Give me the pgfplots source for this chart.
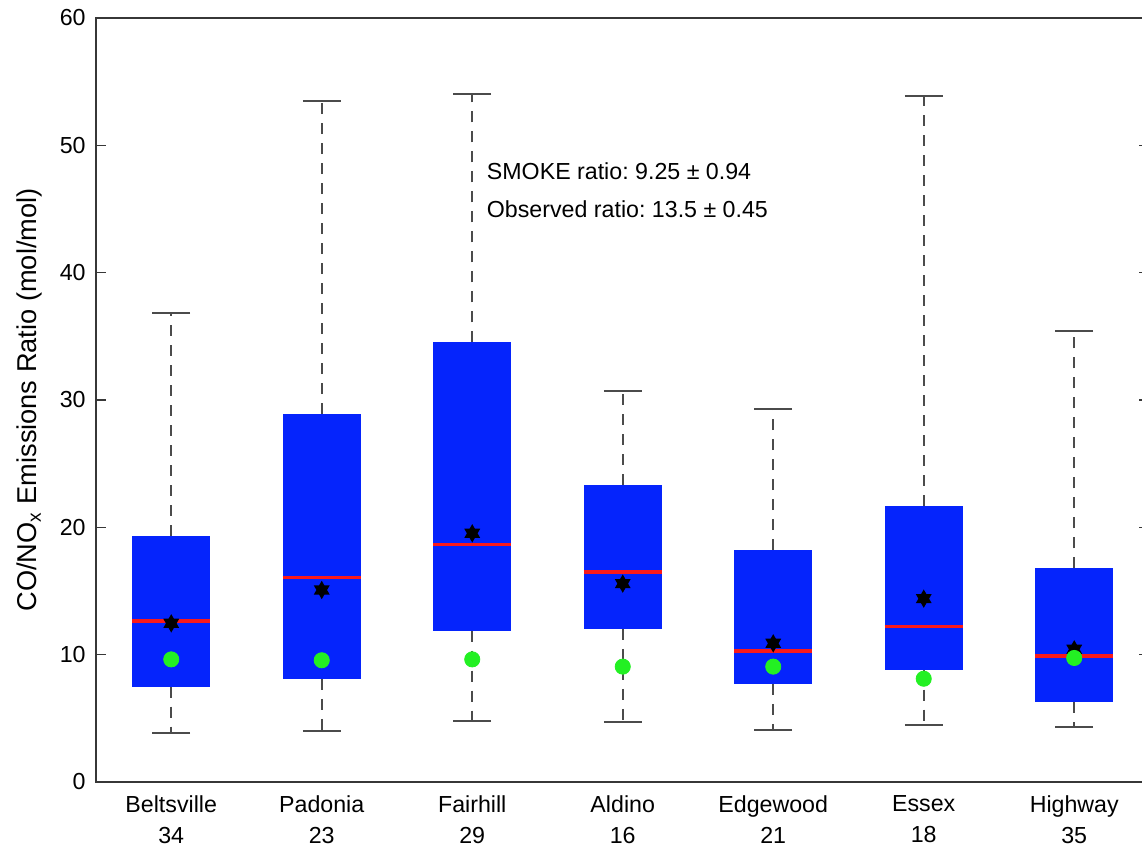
\documentclass[border=0pt]{standalone}
\usepackage{pgfplots}
\pgfplotsset{compat=1.18}
\usepgfplotslibrary{statistics}
\usepackage{pgfplotstable}
\usepackage{fontspec}
\setmainfont{Liberation Sans}
\frenchspacing
\definecolor{boxblue}{RGB}{5,36,252}
\definecolor{medred}{RGB}{250,25,25}
\definecolor{dotgreen}{RGB}{35,240,35}
\definecolor{axgray}{RGB}{55,55,55}
\definecolor{whgray}{RGB}{75,75,75}
\newcommand\fs{\fontsize{11.6}{15.5}\selectfont}

\pgfdeclareplotmark{hexstar}{%
  \pgfpathmoveto{\pgfpoint{0pt}{\pgfplotmarksize}}%
  \pgfpathlineto{\pgfpoint{0.866\pgfplotmarksize}{-0.5\pgfplotmarksize}}%
  \pgfpathlineto{\pgfpoint{-0.866\pgfplotmarksize}{-0.5\pgfplotmarksize}}%
  \pgfpathclose
  \pgfpathmoveto{\pgfpoint{0pt}{-\pgfplotmarksize}}%
  \pgfpathlineto{\pgfpoint{-0.866\pgfplotmarksize}{0.5\pgfplotmarksize}}%
  \pgfpathlineto{\pgfpoint{0.866\pgfplotmarksize}{0.5\pgfplotmarksize}}%
  \pgfpathclose
  \pgfusepathqfill
}

\pgfplotstableread{
x lw q1 med q3 uw avg obs
1 3.82 7.49 12.64 19.32 36.81 12.46 9.63
2 4.03 8.09 16.05 28.90 53.48 15.08 9.56
3 4.82 11.89 18.67 34.53 54.00 19.53 9.63
4 4.74 12.02 16.49 23.35 30.73 15.58 9.06
5 4.11 7.70 10.29 18.22 29.27 10.89 9.06
6 4.48 8.82 12.21 21.68 53.88 14.40 8.11
7 4.32 6.26 9.90 16.78 35.42 10.42 9.74
}\boxdata

\begin{document}
\begin{tikzpicture}
\begin{axis}[
  scale only axis, width=526.75pt, height=382pt,
  at={(0,0)}, anchor=south west,
  xmin=0.5, xmax=7.5, ymin=0, ymax=60,
  clip=false,
  axis line style={axgray, line width=1pt},
  xtick={1,2,3,4,5,6,7},
  xticklabels={{Beltsville\\34},{Padonia\\23},{Fairhill\\29},{Aldino\\16},{Edgewood\\21},{Essex\\18},{Highway\\35}},
  xticklabel style={align=center, font=\fs, inner sep=0pt, yshift=-6.5pt},
  x tick style={draw=none},
  ytick={0,10,20,30,40,50,60},
  ytick pos=both,
  yticklabel pos=left,
  y tick style={axgray, line width=0.8pt},
  tick align=inside,
  major tick length=5pt,
  yticklabel style={font=\fs, inner sep=0pt, xshift=-5pt},
  /pgf/number format/assume math mode=true,
  ylabel={CO/NO\textsubscript{x} Emissions Ratio (mol/mol)},
  ylabel style={at={(axis description cs:-0.063,0.5)}, anchor=center, font=\fontsize{13.6}{16}\selectfont},
  boxplot/draw direction=y,
  boxplot/box extend=0.52,
  boxplot/whisker extend=0.25,
  boxplot/every box/.style={fill=boxblue, draw=none},
  boxplot/every median/.style={draw=medred, line width=1.6pt},
  boxplot/every whisker/.style={draw=whgray, line width=1pt, dash pattern=on 5.5pt off 4.5pt},
]
\addplot[boxplot prepared={draw position=1, lower whisker=3.82, lower quartile=7.49, median=12.64, upper quartile=19.32, upper whisker=36.81}] coordinates {};
\addplot[boxplot prepared={draw position=2, lower whisker=4.03, lower quartile=8.09, median=16.05, upper quartile=28.90, upper whisker=53.48}] coordinates {};
\addplot[boxplot prepared={draw position=3, lower whisker=4.82, lower quartile=11.89, median=18.67, upper quartile=34.53, upper whisker=54.00}] coordinates {};
\addplot[boxplot prepared={draw position=4, lower whisker=4.74, lower quartile=12.02, median=16.49, upper quartile=23.35, upper whisker=30.73}] coordinates {};
\addplot[boxplot prepared={draw position=5, lower whisker=4.11, lower quartile=7.70, median=10.29, upper quartile=18.22, upper whisker=29.27}] coordinates {};
\addplot[boxplot prepared={draw position=6, lower whisker=4.48, lower quartile=8.82, median=12.21, upper quartile=21.68, upper whisker=53.88}] coordinates {};
\addplot[boxplot prepared={draw position=7, lower whisker=4.32, lower quartile=6.26, median=9.90, upper quartile=16.78, upper whisker=35.42}] coordinates {};
\addplot[whgray, only marks, mark=-, mark size=9.4pt, mark options={draw=whgray, line width=1pt, solid}] table[x=x, y=lw] {\boxdata};
\addplot[whgray, only marks, mark=-, mark size=9.4pt, mark options={draw=whgray, line width=1pt, solid}] table[x=x, y=uw] {\boxdata};
\addplot[black, only marks, mark=hexstar, mark size=4.6pt, mark options={fill=black, draw=none}] table[x=x, y=avg] {\boxdata};
\addplot[dotgreen, only marks, mark=*, mark size=3.8pt, mark options={fill=dotgreen, draw=dotgreen}] table[x=x, y=obs] {\boxdata};
\node[anchor=west, inner sep=0pt, font=\fs] at (axis cs:3.095,47.98) {SMOKE ratio: 9.25 ± 0.94};
\node[anchor=west, inner sep=0pt, font=\fs] at (axis cs:3.095,44.95) {Observed ratio: 13.5 ± 0.45};
\end{axis}
\pgfresetboundingbox
\useasboundingbox (-48pt,-33pt) rectangle (523pt,391pt);
\end{tikzpicture}
\end{document}
